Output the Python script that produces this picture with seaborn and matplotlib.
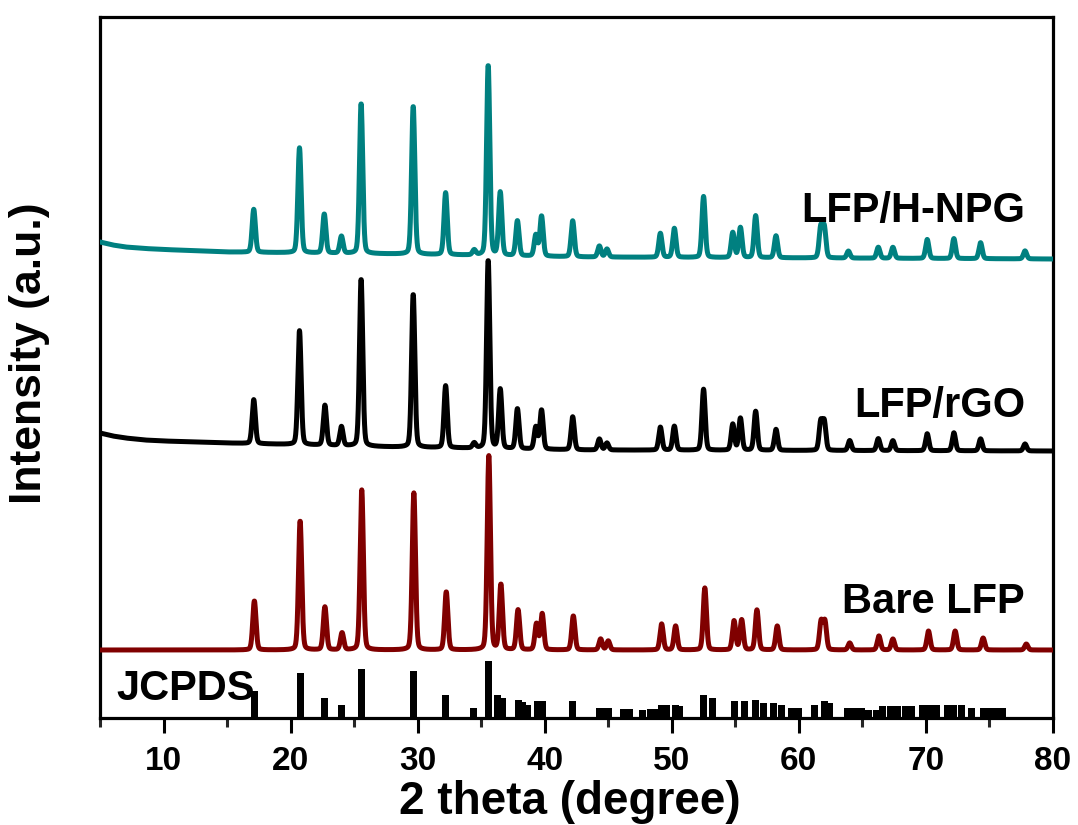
import numpy as np
import pandas as pd
import matplotlib
matplotlib.use("Agg")
import matplotlib.pyplot as plt
import seaborn as sns
from matplotlib.ticker import MultipleLocator

# ---------------- data ----------------
# LFP/H-NPG (teal) : peak positions (2theta, deg) and peak heights above background (a.u.)
hnpg_pos = [17.10, 20.70, 22.65, 24.00, 25.55, 29.65, 32.20, 34.45, 35.55, 36.50, 37.85, 39.30, 39.75,
            42.20, 44.30, 44.90, 49.10, 50.20, 52.50, 54.80, 55.40, 56.60, 58.20, 61.72, 62.00,
            63.90, 66.25, 67.40, 70.10, 72.20, 74.30, 77.80]
hnpg_int = [43, 105, 39, 17, 150, 148, 62, 5, 190, 63, 35, 21, 40,
            36, 11, 8, 24, 29, 61, 25, 30, 42, 22, 30, 30,
            7, 11, 11, 19, 20, 16, 8]
hnpg_bg_x = [5, 6, 7, 8.5, 10, 15, 28, 43, 80]
hnpg_bg_y = [476, 473, 471, 469.5, 468.5, 466, 464, 461, 459]

# LFP/rGO (black)
rgo_pos = [17.10, 20.70, 22.70, 24.00, 25.55, 29.65, 32.20, 34.45, 35.55, 36.50, 37.85, 39.30, 39.75,
           42.20, 44.30, 44.90, 49.10, 50.20, 52.50, 54.80, 55.40, 56.60, 58.20, 61.72, 62.00,
           64.00, 66.25, 67.40, 70.10, 72.20, 74.30, 77.80]
rgo_int = [44, 114, 40, 19, 167, 153, 62, 5, 188, 59, 40, 22, 39,
           33, 11, 7, 23, 24, 61, 26, 32, 39, 21, 28, 28,
           10, 12, 10, 17, 18, 12, 7]
rgo_bg_x = [5, 6, 7, 8.5, 10, 15, 28, 43, 80]
rgo_bg_y = [285, 282, 280, 278, 277, 275, 271, 268, 267]

# Bare LFP (dark red)
bare_pos = [17.15, 20.75, 22.70, 24.05, 25.60, 29.70, 32.25, 35.60, 36.55, 37.90, 39.35, 39.80,
            42.25, 44.40, 45.00, 49.20, 50.30, 52.60, 54.90, 55.50, 56.70, 58.30, 61.75, 62.05,
            64.00, 66.30, 67.40, 70.20, 72.30, 74.50, 77.90]
bare_int = [49, 129, 43, 17, 160, 157, 58, 194, 65, 40, 26, 36,
            34, 11, 9, 26, 24, 62, 29, 30, 40, 24, 28, 28,
            7, 14, 11, 19, 19, 12, 6]
bare_bg_x = [5, 80]
bare_bg_y = [68, 68]

# JCPDS reference lines
jcpds_pos = [17.15, 20.75, 22.65, 24.00, 25.55, 29.70, 32.20, 34.40, 35.60, 36.30, 36.70, 37.90, 38.25,
             38.65, 39.45, 39.80, 42.20, 44.30, 44.70, 45.05, 46.20, 46.70, 47.70, 48.30, 48.70,
             49.20, 49.55, 50.30, 50.60, 52.50, 53.20, 54.90, 55.70, 56.60, 57.20, 58.00, 58.60,
             59.40, 60.00, 61.20, 62.00, 62.40, 63.80, 64.40, 64.90, 65.50, 66.10, 66.60, 67.20,
             67.80, 68.40, 68.90, 69.70, 70.30, 70.80, 71.70, 72.20, 72.80, 73.60, 74.50, 75.00,
             75.50, 76.00]
jcpds_int = [27, 45, 20, 13, 49, 47, 23, 10, 57, 23, 20, 18, 16,
             13, 17, 17, 17, 10, 10, 10, 9, 9, 8, 9, 9,
             13, 13, 13, 12, 23, 20, 17, 17, 18, 15, 15, 13,
             10, 10, 13, 17, 15, 10, 10, 10, 8, 8, 12, 12,
             12, 12, 12, 13, 13, 13, 13, 13, 13, 10, 10, 10,
             10, 10]

x_ticks = [10, 20, 30, 40, 50, 60, 70, 80]
series_labels = ["LFP/H-NPG", "LFP/rGO", "Bare LFP", "JCPDS"]
colors = {"LFP/H-NPG": "#008080", "LFP/rGO": "#000000", "Bare LFP": "#800000"}


def pattern(x, pos, amp, bgx, bgy, fwhm=0.30, eta=0.2):
    y = np.interp(x, bgx, bgy).astype(float)
    s = fwhm / 2.3548
    g = fwhm / 2.0
    for p, a in zip(pos, amp):
        y += a * ((1 - eta) * np.exp(-0.5 * ((x - p) / s) ** 2) + eta / (1 + ((x - p) / g) ** 2))
    return y


tt = np.arange(5.0, 80.0001, 0.02)
df = pd.concat([
    pd.DataFrame({"2theta": tt, "I": pattern(tt, bare_pos, bare_int, bare_bg_x, bare_bg_y), "s": "Bare LFP"}),
    pd.DataFrame({"2theta": tt, "I": pattern(tt, rgo_pos, rgo_int, rgo_bg_x, rgo_bg_y), "s": "LFP/rGO"}),
    pd.DataFrame({"2theta": tt, "I": pattern(tt, hnpg_pos, hnpg_int, hnpg_bg_x, hnpg_bg_y), "s": "LFP/H-NPG"}),
])

# ---------------- style ----------------
sns.set_theme(style="ticks")
plt.rcParams["font.family"] = ["Liberation Sans", "DejaVu Sans"]
plt.rcParams["font.weight"] = "bold"

fig = plt.figure(figsize=(10.78, 8.25), dpi=100)
ax = fig.add_axes([100 / 1078, 1 - 718 / 825, 953 / 1078, 701 / 825])

ax.bar(jcpds_pos, jcpds_int, width=0.55, color="black", linewidth=0, zorder=2)

for name in ["Bare LFP", "LFP/rGO", "LFP/H-NPG"]:
    sub = df[df["s"] == name]
    sns.lineplot(data=sub, x="2theta", y="I", color=colors[name], lw=3.6, ax=ax,
                 sort=False, estimator=None, legend=False, zorder=3)

ax.set_xlim(5, 80)
ax.set_ylim(0, 701)
ax.set_yticks([])
ax.xaxis.set_major_locator(plt.FixedLocator(x_ticks))
ax.xaxis.set_minor_locator(MultipleLocator(10, offset=5))
ax.tick_params(axis="x", which="major", direction="out", length=11, width=2.2, pad=9,
               labelsize=24, colors="black")
ax.tick_params(axis="x", which="minor", direction="out", length=6.5, width=2.2)
for lab in ax.get_xticklabels():
    lab.set_fontweight("bold")
for sp in ax.spines.values():
    sp.set_linewidth(2.3)
    sp.set_color("black")
    sp.set_visible(True)

ax.set_xlabel("2 theta (degree)", fontsize=33, fontweight="bold", color="black")
ax.set_ylabel("Intensity (a.u.)", fontsize=32, fontweight="bold", color="black")
ax.xaxis.set_label_coords(0.493, -0.088)
ax.yaxis.set_label_coords(-0.052, 0.52)

txt_kw = dict(fontsize=30, fontweight="bold", color="black", va="baseline", zorder=5)
ax.text(77.8, 496, series_labels[0], ha="right", **txt_kw)
ax.text(77.8, 301, series_labels[1], ha="right", **txt_kw)
ax.text(77.8, 105, series_labels[2], ha="right", **txt_kw)
ax.text(6.3, 18, series_labels[3], ha="left", **txt_kw)

fig.savefig("out.png", dpi=100)
